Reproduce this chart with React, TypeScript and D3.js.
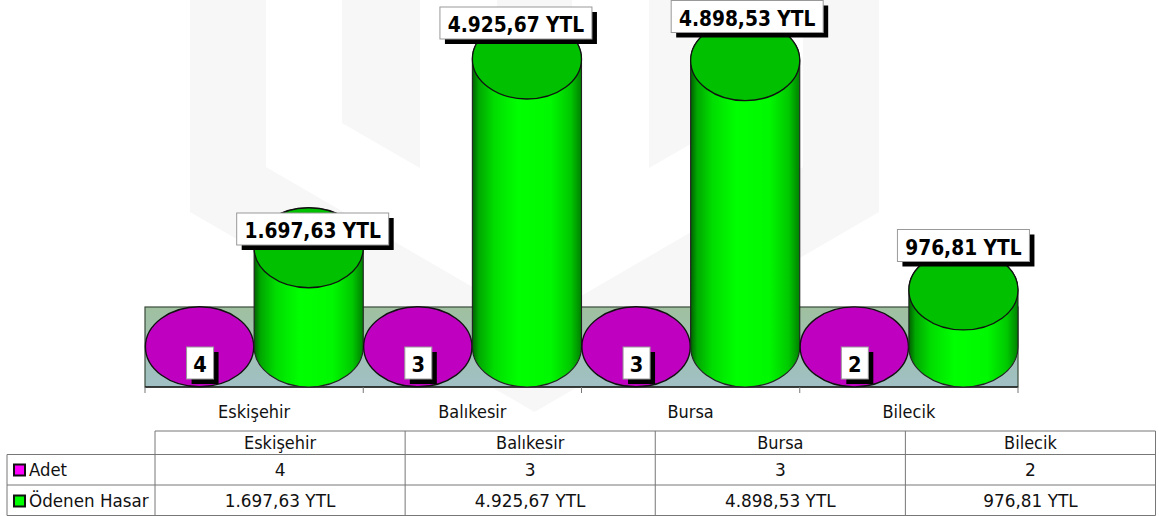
import React from "react";
import * as d3 from "d3";

const categories = ["Eskişehir", "Balıkesir", "Bursa", "Bilecik"];
const adet = [4, 3, 3, 2];
const odenenHasar = [1697.63, 4925.67, 4898.53, 976.81];
const adetLabels = ["4", "3", "3", "2"];
const hasarLabels = ["1.697,63 YTL", "4.925,67 YTL", "4.898,53 YTL", "976,81 YTL"];
const seriesNames = ["Adet", "Ödenen Hasar"];

const W = 1159, H = 516;
const plot = { left: 145, right: 1018, floorY: 347, top: 307, bottom: 387 };
const ry = 40;
const labelOffsets = [{ dx: 4, y: 213 }, { dx: -11, y: 7 }, { dx: 2, y: 0.5 }, { dx: 0, y: 229.5 }];
const labelWidths = [152, 152, 152, 132];

const x = d3.scaleBand<string>().domain(categories).range([plot.left, plot.right]);
const inner = d3.scaleBand<string>().domain(seriesNames).range([0, x.bandwidth()]);
const y = d3.scaleLinear().domain([0, 4925.67]).range([plot.floorY, 59]);

const rx = inner.bandwidth() / 2;
const FONT = "'DejaVu Sans', Verdana, sans-serif";

const tableCols = d3.scaleBand<string>().domain(categories).range([155, 1155.5]);
const rowsY = [431, 454.5, 485, 515.5];

const wm = "#f7f7f7";
const mirror = (v: number) => 1069 - v;
const wmPolys: [number, number][][] = [
  [[190, 0], [266, 0], [266, 167], [534.5, 323], [803, 167], [803, 0], [879, 0], [879, 212], [534.5, 412], [190, 212]],
  [[342, 0], [420, 0], [420, 168], [342, 123]],
  [[mirror(342), 0], [mirror(420), 0], [mirror(420), 168], [mirror(342), 123]],
  [[497, 0], [572, 0], [572, 340], [497, 340]],
];

function cylinder(cx: number, topY: number, baseY: number) {
  return `M${cx - rx},${topY}A${rx},${ry} 0 0 1 ${cx + rx},${topY}V${baseY}A${rx},${ry} 0 0 1 ${cx - rx},${baseY}Z`;
}

function Txt({ x, y, sx = 1, anchor = "middle", size = 17, bold = false, children }: any) {
  return (
    <text
      transform={`translate(${x},${y}) scale(${sx},1)`}
      textAnchor={anchor}
      fontSize={size}
      fontWeight={bold ? "bold" : "normal"}
      fill={bold ? "#000" : "#111"}
    >
      {children}
    </text>
  );
}

export default function App() {
  return (
    <svg width={W} height={H} viewBox={`0 0 ${W} ${H}`} style={{ position: "fixed", left: 0, top: 0, display: "block", background: "#fff" }} fontFamily={FONT}>
      <defs>
        <linearGradient id="wall" x1="0" x2="0" y1="0" y2="1">
          <stop offset="0" stopColor="#a0c0a0" />
          <stop offset="1" stopColor="#a0c0c4" />
        </linearGradient>
        <linearGradient id="cyl" x1="0" x2="1" y1="0" y2="0">
          <stop offset="0" stopColor="#006000" />
          <stop offset="0.06" stopColor="#00a800" />
          <stop offset="0.2" stopColor="#00dd00" />
          <stop offset="0.42" stopColor="#00ff00" />
          <stop offset="0.72" stopColor="#00f800" />
          <stop offset="0.9" stopColor="#00c800" />
          <stop offset="1" stopColor="#008000" />
        </linearGradient>
      </defs>

      {wmPolys.map((pts, i) => (
        <polygon key={i} points={pts.map((p) => p.join(",")).join(" ")} fill={wm} />
      ))}

      <rect x={plot.left} y={plot.top} width={plot.right - plot.left} height={plot.bottom - plot.top} fill="url(#wall)" stroke="#3a4a3a" strokeWidth={1.2} />
      <line x1={plot.left} x2={plot.right} y1={plot.bottom} y2={plot.bottom} stroke="#222" strokeWidth={1.5} />

      {[...categories.map((c) => x(c)!), plot.right].map((t, i) => (
        <line key={i} x1={t} x2={t} y1={plot.bottom} y2={plot.bottom + 6} stroke="#777" />
      ))}

      {categories.map((c, i) => {
        const cxA = x(c)! + inner("Adet")! + rx;
        const cxB = x(c)! + inner("Ödenen Hasar")! + rx;
        const topB = y(odenenHasar[i]);
        return (
          <g key={c}>
            <ellipse cx={cxA} cy={y(adet[i])} rx={rx - 0.4} ry={ry} fill="#c000c0" stroke="#111" strokeWidth={1.4} />
            <path d={cylinder(cxB, topB, plot.floorY)} fill="url(#cyl)" stroke="#222" strokeWidth={1.1} />
            <ellipse cx={cxB} cy={topB} rx={rx} ry={ry} fill="#00c000" stroke="#111" strokeWidth={1.3} />
          </g>
        );
      })}

      {categories.map((c, i) => {
        const cxA = x(c)! + inner("Adet")! + rx;
        return (
          <g key={c}>
            <rect x={cxA - 13 + 5} y={347 + 5} width={27} height={32} fill="#000" />
            <rect x={cxA - 13} y={347} width={27} height={32} fill="#fff" stroke="#999" strokeWidth={1} />
            <Txt x={cxA + 0.5} y={372} size={20.5} sx={0.95} bold>{adetLabels[i]}</Txt>
          </g>
        );
      })}

      {categories.map((c, i) => {
        const cxB = x(c)! + inner("Ödenen Hasar")! + rx;
        const w = labelWidths[i];
        const bx = cxB + labelOffsets[i].dx - w / 2;
        const by = labelOffsets[i].y;
        return (
          <g key={c}>
            <rect x={bx + 5} y={by + 5} width={w} height={32} fill="#000" />
            <rect x={bx} y={by} width={w} height={32} fill="#fff" stroke="#999" strokeWidth={1} />
            <Txt x={bx + w / 2} y={by + 25} size={20.5} sx={0.91} bold>{hasarLabels[i]}</Txt>
          </g>
        );
      })}

      {categories.map((c) => (
        <Txt key={c} x={x(c)! + x.bandwidth() / 2} y={418} sx={0.95}>{c}</Txt>
      ))}

      {/* data table */}
      <g stroke="#777" strokeWidth={1} fill="none">
        <path d={`M155,${rowsY[0]}H1155.5M7,${rowsY[1]}H1155.5M7,${rowsY[2]}H1155.5M7,${rowsY[3]}H1155.5`} />
        <path d={`M7,${rowsY[1]}V${rowsY[3]}`} />
        {[...categories.map((c) => tableCols(c)!), 1155.5].map((t, i) => (
          <path key={i} d={`M${t},${rowsY[0]}V${rowsY[3]}`} />
        ))}
      </g>
      {categories.map((c, i) => {
        const tx = tableCols(c)! + tableCols.bandwidth() / 2;
        return (
          <g key={c}>
            <Txt x={tx} y={449} sx={0.95}>{c}</Txt>
            <Txt x={tx} y={476}>{adet[i]}</Txt>
            <Txt x={tx} y={507} sx={0.995}>{hasarLabels[i]}</Txt>
          </g>
        );
      })}
      {seriesNames.map((s, i) => (
        <g key={s}>
          <rect x={14} y={rowsY[i + 1] + (i ? 10.5 : 10)} width={11} height={11} fill={i ? "#00ff00" : "#ff00ff"} stroke="#111" strokeWidth={2} />
          <Txt x={29} y={rowsY[i + 1] + (i ? 22 : 21.5)} anchor="start" sx={i ? 0.985 : 0.97}>{s}</Txt>
        </g>
      ))}
    </svg>
  );
}
